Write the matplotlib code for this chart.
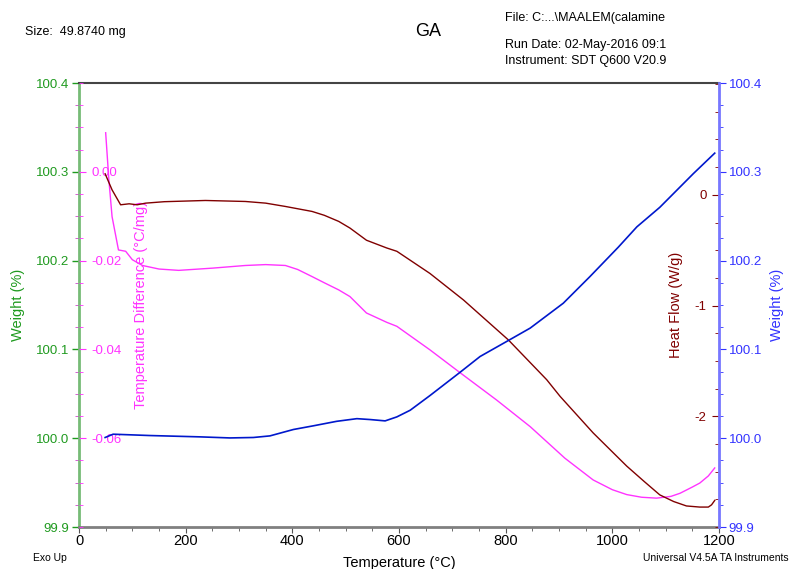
import matplotlib.pyplot as plt
from matplotlib.ticker import MultipleLocator, FormatStrFormatter

plt.rcParams['font.family'] = ['Liberation Sans', 'DejaVu Sans']
plt.rcParams['axes.unicode_minus'] = False

# weight (%) vs temperature
w_temp = [49, 64, 133, 227, 283, 327, 358, 402, 439, 483, 521, 546, 574, 596, 621,
          658, 714, 752, 805, 846, 908, 958, 1011, 1046, 1089, 1152, 1192]
w_val = [100.0008, 100.0045, 100.003, 100.0015, 100.0003, 100.0008, 100.0026, 100.0098,
         100.0139, 100.019, 100.022, 100.021, 100.0195, 100.024, 100.0315,
         100.048, 100.074, 100.092, 100.110, 100.124, 100.152, 100.182, 100.215,
         100.238, 100.260, 100.298, 100.321]

# temperature difference (°C/mg)
td_temp = [50, 56, 62, 74, 87.5, 100, 119, 150, 187, 250, 312, 350, 387, 410, 437, 460,
           487, 508, 539, 577, 596, 658, 714, 783, 846, 911, 964, 1000, 1027, 1055, 1083,
           1110, 1127, 1150, 1164, 1180, 1192]
td_val = [0.0088, -0.0018, -0.0101, -0.0176, -0.0179, -0.0198, -0.0211, -0.0219, -0.0222,
          -0.0217, -0.0211, -0.0209, -0.0211, -0.0220, -0.0236, -0.0250, -0.0266, -0.0281,
          -0.0318, -0.0339, -0.0348, -0.0401, -0.0452, -0.0514, -0.0574, -0.0645, -0.0694,
          -0.0716, -0.0727, -0.0733, -0.0735, -0.0731, -0.0724, -0.0710, -0.0701, -0.0685,
          -0.0667]

# heat flow (W/g)
hf_temp = [49, 62, 78, 94, 109, 125, 160, 237, 312, 350, 387, 437, 460, 487, 508, 539, 577,
           596, 658, 721, 805, 877, 902, 964, 1027, 1060, 1089, 1115, 1139, 1164, 1180,
           1186, 1192]
hf_val = [0.19, 0.045, -0.09, -0.081, -0.09, -0.075, -0.062, -0.051, -0.06, -0.075, -0.105,
          -0.15, -0.185, -0.24, -0.30, -0.41, -0.48, -0.51, -0.71, -0.95, -1.31, -1.67,
          -1.82, -2.15, -2.45, -2.59, -2.71, -2.77, -2.81, -2.82, -2.82, -2.80, -2.76]

green = '#1f9a1f'
magenta = '#ff33ff'
maroon = '#800000'
blue = '#3333ff'

fig = plt.figure(figsize=(7.91, 5.69), dpi=100)
ax = fig.add_axes([79 / 791, 42 / 569, 640 / 791, 444 / 569])

# left weight axis (green)
ax.set_xlim(0, 1200)
ax.set_ylim(99.9, 100.4)
ax.yaxis.set_major_locator(MultipleLocator(0.1))
ax.yaxis.set_minor_locator(MultipleLocator(0.025))
ax.yaxis.set_major_formatter(FormatStrFormatter('%.1f'))
ax.tick_params(axis='y', colors=green, labelsize=9.5, length=5, width=1, pad=2)
ax.tick_params(axis='y', which='minor', length=3, color='#cc44cc')
ax.xaxis.set_major_locator(MultipleLocator(200))
ax.xaxis.set_minor_locator(MultipleLocator(50))
ax.tick_params(axis='x', labelsize=10.5, length=4, color='#555555', pad=1)
ax.tick_params(axis='x', which='minor', length=3, color='#555555')
ax.spines['left'].set_color('#77bb77')
ax.spines['left'].set_linewidth(2)
ax.spines['bottom'].set_color('#808080')
ax.spines['bottom'].set_linewidth(2)
ax.spines['top'].set_color('#444444')
ax.spines['top'].set_linewidth(1.5)
ax.spines['right'].set_visible(False)
ax.set_ylabel('Weight (%)', color=green, fontsize=10.5, labelpad=8)
ax.set_xlabel('Temperature (°C)', fontsize=10.5, labelpad=6)

# temperature difference axis (magenta), drawn inside on the left
ax_td = ax.twinx()
ax_td.yaxis.tick_left()
ax_td.set_ylim(-0.08, 0.02)
ax_td.yaxis.set_minor_locator(MultipleLocator(0.005))
ax_td.set_yticks([0.0, -0.02, -0.04, -0.06])
ax_td.yaxis.set_major_formatter(FormatStrFormatter('%.2f'))
ax_td.tick_params(axis='y', direction='in', colors=magenta, labelsize=9.5, length=5, pad=-9)
ax_td.tick_params(axis='y', which='minor', direction='in', length=3, color=magenta)
for lab in ax_td.get_yticklabels():
    lab.set_horizontalalignment('left')
for s in ax_td.spines.values():
    s.set_visible(False)
ax_td.plot(td_temp, td_val, color=magenta, lw=1)
ax_td.text(0.097, 0.5, 'Temperature Difference (°C/mg)', transform=ax_td.transAxes,
           rotation=90, color=magenta, fontsize=10.5, ha='center', va='center')

# heat flow axis (maroon), inside on the right
ax_hf = ax.twinx()
ax_hf.set_ylim(-3.0, 1.01)
ax_hf.yaxis.set_minor_locator(MultipleLocator(0.25))
ax_hf.set_yticks([0, -1, -2])
ax_hf.tick_params(axis='y', direction='in', colors=maroon, labelsize=9.5, length=5, pad=-9)
ax_hf.tick_params(axis='y', which='minor', direction='in', length=3, color=maroon)
for lab in ax_hf.get_yticklabels():
    lab.set_horizontalalignment('right')
for s in ax_hf.spines.values():
    s.set_visible(False)
ax_hf.plot(hf_temp, hf_val, color=maroon, lw=1)
ax_hf.text(0.933, 0.5, 'Heat Flow (W/g)', transform=ax_hf.transAxes,
           rotation=90, color=maroon, fontsize=10.5, ha='center', va='center')

# right weight axis (blue)
ax_w = ax.twinx()
ax_w.set_ylim(99.9, 100.4)
ax_w.yaxis.set_major_locator(MultipleLocator(0.1))
ax_w.yaxis.set_minor_locator(MultipleLocator(0.025))
ax_w.yaxis.set_major_formatter(FormatStrFormatter('%.1f'))
ax_w.tick_params(axis='y', colors=blue, labelsize=9.5, length=5, pad=2)
ax_w.tick_params(axis='y', which='minor', length=3, color=blue)
for s in ['left', 'top', 'bottom']:
    ax_w.spines[s].set_visible(False)
ax_w.spines['right'].set_color('#7777ff')
ax_w.spines['right'].set_linewidth(2)
ax_w.plot(w_temp, w_val, color='#0018cc', lw=1.2)
ax_w.set_ylabel('Weight (%)', color=blue, fontsize=10.5, labelpad=6)

# header and footer texts
fig.text(25 / 791, 1 - 32 / 569, 'Size:  49.8740 mg', fontsize=9, va='center')
fig.text(415 / 791, 1 - 31 / 569, 'GA', fontsize=13, va='center')
fig.text(505 / 791, 1 - 18 / 569, 'File: C:...\\MAALEM(calamine', fontsize=9, va='center')
fig.text(505 / 791, 1 - 45 / 569, 'Run Date: 02-May-2016 09:1', fontsize=9, va='center')
fig.text(505 / 791, 1 - 61 / 569, 'Instrument: SDT Q600 V20.9', fontsize=9, va='center')
fig.text(33 / 791, 1 - 558 / 569, 'Exo Up', fontsize=7.5, va='center')
fig.text(789 / 791, 1 - 558 / 569, 'Universal V4.5A TA Instruments', fontsize=7.5,
         va='center', ha='right')

fig.savefig('out.png', dpi=100)
